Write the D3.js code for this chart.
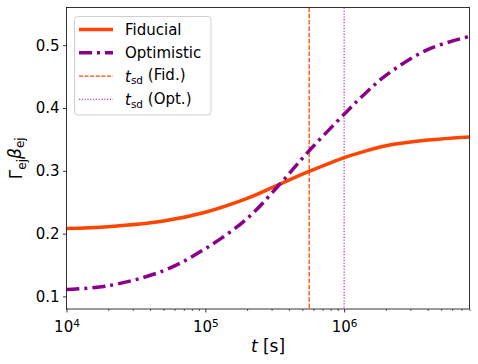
<!DOCTYPE html>
<html>
<head>
<meta charset="utf-8">
<script src="https://cdn.jsdelivr.net/npm/d3@7"></script>
<style>
  body { margin: 0; background: #fff; }
  svg { display: block; font-family: "DejaVu Sans", sans-serif; }
</style>
</head>
<body>
<svg width="478" height="364"></svg>
<script>
// values
var times = [1e4, 2e4, 5e4, 1e5, 2e5, 3.45e5, 5.6e5, 1e6, 1.4e6, 2e6, 4e6, 8e6];
var fiducial = [0.208, 0.211, 0.220, 0.234, 0.256, 0.279, 0.299, 0.321, 0.331, 0.340, 0.349, 0.354];
var optimistic = [0.111, 0.117, 0.141, 0.176, 0.224, 0.279, 0.332, 0.390, 0.422, 0.452, 0.493, 0.514];
var tsdFid = 5.6e5;
var tsdOpt = 1e6;
var xMajor = [1e4, 1e5, 1e6];
var yTicks = [0.1, 0.2, 0.3, 0.4, 0.5];

var svg = d3.select("svg");
var mLeft = 66.5, mRight = 469.5, mTop = 7.5, mBottom = 309;

var x = d3.scaleLog().domain([1e4, 8e6]).range([mLeft, mRight]);
var y = d3.scaleLinear().domain([0.08, 0.56]).range([mBottom, mTop]);

var orange = "#ff4500", purple = "#8b008b", orchid = "#c040d8";

var plot = svg.append("g");
plot.append("clipPath").attr("id", "clip")
  .append("rect").attr("x", mLeft).attr("y", mTop).attr("width", mRight - mLeft).attr("height", mBottom - mTop);

var body = plot.append("g").attr("clip-path", "url(#clip)");

// vertical spin-down lines
body.append("line")
  .attr("x1", x(tsdFid)).attr("x2", x(tsdFid))
  .attr("y1", mTop).attr("y2", mBottom)
  .attr("stroke", orange).attr("stroke-width", 1.3).attr("stroke-dasharray", "4.5,1.8");
body.append("line")
  .attr("x1", x(tsdOpt)).attr("x2", x(tsdOpt))
  .attr("y1", mTop).attr("y2", mBottom)
  .attr("stroke", orchid).attr("stroke-width", 1.3).attr("stroke-dasharray", "1.3,1.6");

var line = d3.line()
  .x(function(d) { return x(d[0]); })
  .y(function(d) { return y(d[1]); })
  .curve(d3.curveCatmullRom.alpha(0.5));

body.append("path")
  .datum(times.map(function(t, i) { return [t, fiducial[i]]; }))
  .attr("d", line)
  .attr("fill", "none").attr("stroke", orange).attr("stroke-width", 3.5);

body.append("path")
  .datum(times.map(function(t, i) { return [t, optimistic[i]]; }))
  .attr("d", line)
  .attr("fill", "none").attr("stroke", purple).attr("stroke-width", 3.5)
  .attr("stroke-dasharray", "13,5,3,5");

// axes
var xMinor = [];
[1e4, 1e5, 1e6].forEach(function(b) {
  for (var k = 2; k <= 9; k++) if (b * k <= 8e6) xMinor.push(b * k);
});

svg.append("g")
  .attr("transform", "translate(0," + mBottom + ")")
  .call(d3.axisBottom(x).tickValues(xMinor).tickSize(2).tickFormat(""))
  .call(function(g) { g.select(".domain").remove(); g.selectAll("line").attr("stroke", "#000").attr("stroke-width", 0.6); });

var xa = svg.append("g")
  .attr("transform", "translate(0," + mBottom + ")")
  .call(d3.axisBottom(x).tickValues(xMajor).tickSize(3.5).tickPadding(4))
  .call(function(g) { g.select(".domain").remove(); g.selectAll("line").attr("stroke", "#000").attr("stroke-width", 0.8); });

xa.selectAll("text").each(function(d) {
  var t = d3.select(this).text("")
    .attr("font-size", 15).attr("font-family", "DejaVu Sans, sans-serif").attr("fill", "#000")
    .attr("dy", "1.02em");
  t.append("tspan").text("10");
  t.append("tspan").attr("dy", "-0.45em").attr("font-size", 10.5).text(Math.round(Math.log10(d)));
});

svg.append("g")
  .attr("transform", "translate(" + mLeft + ",0)")
  .call(d3.axisLeft(y).tickValues(yTicks).tickSize(3.5).tickPadding(3.5).tickFormat(d3.format(".1f")))
  .call(function(g) {
    g.select(".domain").remove();
    g.selectAll("line").attr("stroke", "#000").attr("stroke-width", 0.8);
    g.selectAll("text").attr("font-size", 15).attr("font-family", "DejaVu Sans, sans-serif").attr("fill", "#000");
  });

// frame
svg.append("rect")
  .attr("x", mLeft).attr("y", mTop).attr("width", mRight - mLeft).attr("height", mBottom - mTop)
  .attr("fill", "none").attr("stroke", "#000").attr("stroke-width", 0.8);

// axis labels
var xl = svg.append("text")
  .attr("x", (mLeft + mRight) / 2).attr("y", 352)
  .attr("text-anchor", "middle").attr("font-size", 17);
xl.append("tspan").attr("font-style", "italic").text("t");
xl.append("tspan").text(" [s]");

var yl = svg.append("text")
  .attr("transform", "translate(22," + ((mTop + mBottom) / 2) + ") rotate(-90)")
  .attr("text-anchor", "middle").attr("font-size", 17);
yl.append("tspan").text("Γ");
yl.append("tspan").attr("dy", "0.3em").attr("font-size", 12).text("ej");
yl.append("tspan").attr("dy", "-0.3em").attr("font-style", "italic").text("β");
yl.append("tspan").attr("dy", "0.3em").attr("font-size", 12).text("ej");

// legend
var legendItems = [
  { label: "Fiducial", color: orange, width: 3.5, dash: null },
  { label: "Optimistic", color: purple, width: 3.5, dash: "13,5,3,5" },
  { label: "Fid.", color: orange, width: 1.2, dash: "4,1.6", tsd: true },
  { label: "Opt.", color: orchid, width: 1.2, dash: "1.2,1.6", tsd: true }
];

var lg = svg.append("g");
lg.append("rect")
  .attr("x", 74.5).attr("y", 16.5).attr("width", 136.5).attr("height", 98.5)
  .attr("rx", 3).attr("fill", "#fff").attr("fill-opacity", 0.8)
  .attr("stroke", "#d0d0d0").attr("stroke-width", 1);

legendItems.forEach(function(d, i) {
  var yy = 29.5 + i * 23.3;
  lg.append("line")
    .attr("x1", 79).attr("x2", 113).attr("y1", yy).attr("y2", yy)
    .attr("stroke", d.color).attr("stroke-width", d.width)
    .attr("stroke-dasharray", d.dash);
  var t = lg.append("text").attr("x", 125).attr("y", yy + 5.5).attr("font-size", 15);
  if (d.tsd) {
    t.append("tspan").attr("font-style", "italic").text("t");
    t.append("tspan").attr("dy", "0.25em").attr("font-size", 10.5).text("sd");
    t.append("tspan").attr("dy", "-0.25em").text(" (" + d.label + ")");
  } else {
    t.text(d.label);
  }
});
</script>
</body>
</html>
